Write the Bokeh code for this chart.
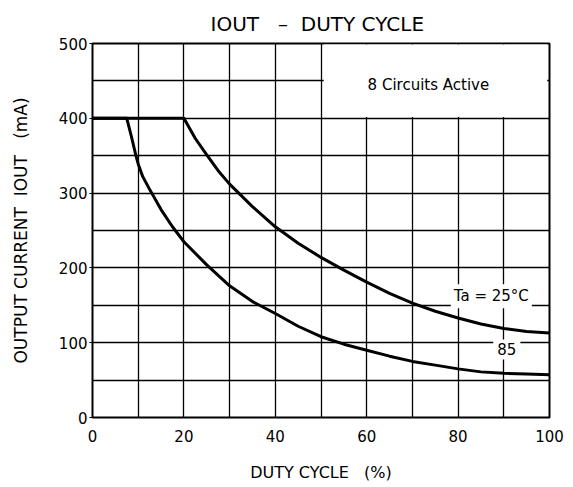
from bokeh.plotting import figure
from bokeh.models import Label, BoxAnnotation, Range1d, Title
from bokeh.embed import file_html
from bokeh.resources import INLINE

# ---- data ----
duty_25 = [0, 20, 22.5, 25, 27.5, 30, 35, 40, 45, 50, 55, 60, 65, 70, 75, 80, 85, 90, 95, 100]
iout_25 = [400, 400, 373, 351, 330, 312, 282, 255, 233, 214, 197, 181, 166, 153, 142, 133, 125, 119, 115, 113]
duty_85 = [0, 7.5, 8.5, 9.5, 10, 11, 12.5, 15, 17.5, 20, 25, 30, 35, 40, 45, 50, 55, 60, 65, 70, 75, 80, 85, 90, 95, 100]
iout_85 = [400, 400, 376, 350, 339, 322, 305, 278, 255, 235, 204, 176, 155, 139, 122, 108, 98, 90, 82, 75, 70, 65, 61, 59, 58, 57]
x_ticks = [0, 20, 40, 60, 80, 100]
y_ticks = [0, 100, 200, 300, 400, 500]
x_grid = [0, 10, 20, 30, 40, 50, 60, 70, 80, 90, 100]
y_grid = [0, 50, 100, 150, 200, 250, 300, 350, 400, 450, 500]

FONT = "DejaVu Sans"

p = figure(width=565, height=484, x_range=Range1d(0, 100), y_range=Range1d(0, 500),
           output_backend="svg", toolbar_location=None,
           min_border_left=92, min_border_right=16, min_border_top=43, min_border_bottom=67)

p.background_fill_color = "white"
p.border_fill_color = "white"
p.outline_line_color = "black"
p.outline_line_width = 2
p.outline_line_alpha = 1

# title  (I_OUT - DUTY CYCLE)
p.add_layout(Title(text="IOUT\u00a0\u00a0\u00a0\u2013\u00a0\u00a0DUTY CYCLE", align="left", offset=118,
                   text_font=FONT, text_font_size="20px", text_font_style="normal",
                   text_color="black", standoff=15), "above")

# grid
p.xgrid.ticker = x_grid
p.ygrid.ticker = y_grid
for g in (p.xgrid, p.ygrid):
    g.grid_line_color = "black"
    g.grid_line_width = 1.3
    g.grid_line_alpha = 1

# axes
p.xaxis.ticker = x_ticks
p.yaxis.ticker = y_ticks
for ax in (p.xaxis, p.yaxis):
    ax.axis_line_color = None
    ax.minor_tick_line_color = None
    ax.major_tick_in = 0
    ax.major_label_text_font = FONT
    ax.major_label_text_font_size = "15px"
    ax.major_label_text_color = "black"
    ax.axis_label_text_font = FONT
    ax.axis_label_text_font_style = "normal"
    ax.axis_label_text_color = "black"
    ax.major_tick_line_color = "black"

p.xaxis.major_tick_out = 0
p.xaxis.major_label_standoff = 12
p.xaxis.axis_label = "DUTY CYCLE\u00a0\u00a0\u00a0(%)"
p.xaxis.axis_label_text_font_size = "16px"
p.xaxis.axis_label_standoff = 18

p.yaxis.major_tick_out = 3
p.yaxis.major_label_standoff = 2
p.yaxis.axis_label = "OUTPUT CURRENT\u00a0\u00a0IOUT\u00a0\u00a0\u00a0(mA)"
p.yaxis.axis_label_text_font_size = "17px"
p.yaxis.axis_label_standoff = 25

# blank area in the upper-right band (no grid there in the reference)
p.add_layout(BoxAnnotation(left=50.6, right=99.5, bottom=401.8, top=498.6,
                           fill_color="white", fill_alpha=1, line_alpha=0))

# curves
p.line(duty_25, iout_25, line_width=3, line_color="black", line_join="round")
p.line(duty_85, iout_85, line_width=3, line_color="black", line_join="round")

# annotations
p.add_layout(Label(x=60.2, y=445, text="8 Circuits Active", text_font=FONT,
                   text_font_size="15px", text_baseline="middle", text_color="black"))
p.add_layout(Label(x=78.4, y=162, text="Ta = 25\u00b0C", text_font=FONT,
                   text_font_size="15px", text_baseline="middle", text_color="black",
                   background_fill_color="white", background_fill_alpha=1, padding=3))
p.add_layout(Label(x=87.7, y=91, text="85", text_font=FONT,
                   text_font_size="15px", text_baseline="middle", text_color="black",
                   background_fill_color="white", background_fill_alpha=1, padding=4))

open("out.html", "w").write(file_html(p, INLINE))
